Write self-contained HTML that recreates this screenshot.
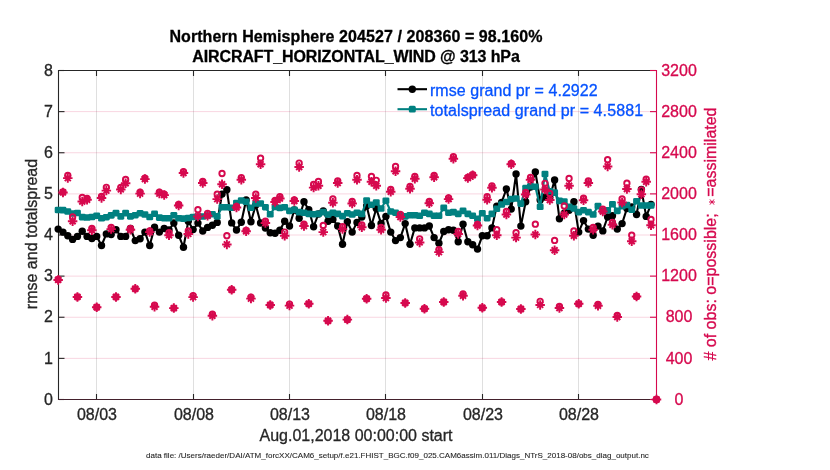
<!DOCTYPE html><html><head><meta charset="utf-8"><title>obs diag</title><style>
html,body{margin:0;padding:0;background:#fff;}
body{width:830px;height:470px;position:relative;overflow:hidden;font-family:"Liberation Sans",sans-serif;font-size:16px;color:#262626;}
.t{will-change:transform;-webkit-text-stroke:0.3px currentColor;position:absolute;white-space:nowrap;line-height:16px;height:16px;}
.yl{text-align:right;width:40px;left:12.6px;}
.yr{left:648.8px;width:60px;text-align:center;color:#D6094E;}
.xl{width:60px;text-align:center;top:407.1px;}
.ttl{font-weight:bold;width:600px;left:57.5px;text-align:center;}
.lg{color:#0552FF;left:429.8px;}
.rot{will-change:transform;transform-origin:0 0;transform:rotate(-90deg);text-align:center;}
</style></head><body>
<svg width="830" height="470" viewBox="0 0 830 470" style="position:absolute;left:0;top:0">
<rect x="0" y="0" width="830" height="470" fill="#fff"/>
<g stroke="rgba(38,38,38,0.15)" stroke-width="1"><line x1="96.5" y1="70.5" x2="96.5" y2="399.5"/><line x1="193.5" y1="70.5" x2="193.5" y2="399.5"/><line x1="289.5" y1="70.5" x2="289.5" y2="399.5"/><line x1="385.5" y1="70.5" x2="385.5" y2="399.5"/><line x1="482.5" y1="70.5" x2="482.5" y2="399.5"/><line x1="578.5" y1="70.5" x2="578.5" y2="399.5"/></g>
<g stroke="rgba(214,9,78,0.17)" stroke-width="1"><line x1="58.5" y1="358.38" x2="656.5" y2="358.38"/><line x1="58.5" y1="317.25" x2="656.5" y2="317.25"/><line x1="58.5" y1="276.12" x2="656.5" y2="276.12"/><line x1="58.5" y1="235" x2="656.5" y2="235"/><line x1="58.5" y1="193.88" x2="656.5" y2="193.88"/><line x1="58.5" y1="152.75" x2="656.5" y2="152.75"/><line x1="58.5" y1="111.62" x2="656.5" y2="111.62"/></g>
<g stroke="#262626" stroke-width="1.1" fill="none"><line x1="58.5" y1="70.0" x2="58.5" y2="400.0"/><line x1="58.5" y1="70.5" x2="656.5" y2="70.5"/><line x1="58.5" y1="399.5" x2="64.5" y2="399.5"/><line x1="58.5" y1="358.38" x2="64.5" y2="358.38"/><line x1="58.5" y1="317.25" x2="64.5" y2="317.25"/><line x1="58.5" y1="276.12" x2="64.5" y2="276.12"/><line x1="58.5" y1="235" x2="64.5" y2="235"/><line x1="58.5" y1="193.88" x2="64.5" y2="193.88"/><line x1="58.5" y1="152.75" x2="64.5" y2="152.75"/><line x1="58.5" y1="111.62" x2="64.5" y2="111.62"/><line x1="58.5" y1="70.5" x2="64.5" y2="70.5"/><line x1="96.5" y1="70.5" x2="96.5" y2="76.0"/><line x1="96.5" y1="399.5" x2="96.5" y2="394.0"/><line x1="193.5" y1="70.5" x2="193.5" y2="76.0"/><line x1="193.5" y1="399.5" x2="193.5" y2="394.0"/><line x1="289.5" y1="70.5" x2="289.5" y2="76.0"/><line x1="289.5" y1="399.5" x2="289.5" y2="394.0"/><line x1="385.5" y1="70.5" x2="385.5" y2="76.0"/><line x1="385.5" y1="399.5" x2="385.5" y2="394.0"/><line x1="482.5" y1="70.5" x2="482.5" y2="76.0"/><line x1="482.5" y1="399.5" x2="482.5" y2="394.0"/><line x1="578.5" y1="70.5" x2="578.5" y2="76.0"/><line x1="578.5" y1="399.5" x2="578.5" y2="394.0"/></g>
<line x1="58.0" y1="399.5" x2="656.5" y2="399.5" stroke="#43202c" stroke-width="1.2"/>
<polyline points="58.15,229.1 62.97,232.1 67.79,235.8 72.61,239.4 77.43,236.4 82.25,231.3 87.07,236.4 91.89,238.5 96.71,236.4 101.53,245.5 106.35,233.9 111.17,234.5 115.99,229.7 120.81,236.4 125.63,236.4 130.45,228.5 135.27,240.6 140.09,238.8 144.91,232.1 149.73,245.5 154.55,227.3 159.37,232.1 164.19,228.5 169.01,230 173.83,223 178.65,235.2 183.47,247.3 188.29,221.3 193.11,229.6 197.93,223.1 202.75,231 207.57,227.4 212.39,225.3 217.21,222.4 222.03,194.1 226.85,189.8 231.67,222.9 236.49,230 241.31,222.3 246.13,200 250.95,221.8 255.77,205 260.59,223 265.41,228 270.23,232.7 275.05,233.3 279.87,230.3 284.69,221.2 289.51,226 294.33,210 299.15,218.2 303.97,201.8 308.79,209.7 313.61,226.7 318.43,214 323.25,211 328.07,221.2 332.89,219.4 337.71,226 342.53,244.2 347.35,221.8 352.17,232.1 356.99,222.4 361.81,217 366.63,206 371.45,225.5 376.27,208.5 381.09,223.4 385.91,216.4 390.73,232.1 395.55,240.6 400.37,237.6 405.19,223.6 410.01,244.2 414.83,227.9 419.65,227.9 424.47,227.9 429.29,226 434.11,237.6 438.93,243.3 443.75,231.5 448.57,229.7 453.39,230.3 458.21,241.8 463.03,224.2 467.85,241.8 472.67,244.8 477.49,249.1 482.31,235.8 487.13,235.8 491.95,227.9 496.77,206.1 501.59,202.4 506.41,189 511.23,209.1 516.05,174 520.87,226.1 525.69,201.8 530.51,187 535.33,172 540.15,200 544.97,197 549.79,197.5 554.61,180 559.43,218.8 564.25,213.3 569.07,210.3 573.89,201.7 578.71,232.1 583.53,220.6 588.35,229.1 593.17,235.2 597.99,226.1 602.81,230.9 607.63,217 612.45,215.8 617.27,229.1 622.09,223.6 626.91,208.5 631.73,207 636.55,214.5 641.37,189.4 646.19,216.4 651.01,204.5" fill="none" stroke="#000" stroke-width="2.1" stroke-linejoin="round"/>
<g fill="#000"><circle cx="58.15" cy="229.1" r="3.7"/><circle cx="62.97" cy="232.1" r="3.7"/><circle cx="67.79" cy="235.8" r="3.7"/><circle cx="72.61" cy="239.4" r="3.7"/><circle cx="77.43" cy="236.4" r="3.7"/><circle cx="82.25" cy="231.3" r="3.7"/><circle cx="87.07" cy="236.4" r="3.7"/><circle cx="91.89" cy="238.5" r="3.7"/><circle cx="96.71" cy="236.4" r="3.7"/><circle cx="101.53" cy="245.5" r="3.7"/><circle cx="106.35" cy="233.9" r="3.7"/><circle cx="111.17" cy="234.5" r="3.7"/><circle cx="115.99" cy="229.7" r="3.7"/><circle cx="120.81" cy="236.4" r="3.7"/><circle cx="125.63" cy="236.4" r="3.7"/><circle cx="130.45" cy="228.5" r="3.7"/><circle cx="135.27" cy="240.6" r="3.7"/><circle cx="140.09" cy="238.8" r="3.7"/><circle cx="144.91" cy="232.1" r="3.7"/><circle cx="149.73" cy="245.5" r="3.7"/><circle cx="154.55" cy="227.3" r="3.7"/><circle cx="159.37" cy="232.1" r="3.7"/><circle cx="164.19" cy="228.5" r="3.7"/><circle cx="169.01" cy="230" r="3.7"/><circle cx="173.83" cy="223" r="3.7"/><circle cx="178.65" cy="235.2" r="3.7"/><circle cx="183.47" cy="247.3" r="3.7"/><circle cx="188.29" cy="221.3" r="3.7"/><circle cx="193.11" cy="229.6" r="3.7"/><circle cx="197.93" cy="223.1" r="3.7"/><circle cx="202.75" cy="231" r="3.7"/><circle cx="207.57" cy="227.4" r="3.7"/><circle cx="212.39" cy="225.3" r="3.7"/><circle cx="217.21" cy="222.4" r="3.7"/><circle cx="222.03" cy="194.1" r="3.7"/><circle cx="226.85" cy="189.8" r="3.7"/><circle cx="231.67" cy="222.9" r="3.7"/><circle cx="236.49" cy="230" r="3.7"/><circle cx="241.31" cy="222.3" r="3.7"/><circle cx="246.13" cy="200" r="3.7"/><circle cx="250.95" cy="221.8" r="3.7"/><circle cx="255.77" cy="205" r="3.7"/><circle cx="260.59" cy="223" r="3.7"/><circle cx="265.41" cy="228" r="3.7"/><circle cx="270.23" cy="232.7" r="3.7"/><circle cx="275.05" cy="233.3" r="3.7"/><circle cx="279.87" cy="230.3" r="3.7"/><circle cx="284.69" cy="221.2" r="3.7"/><circle cx="289.51" cy="226" r="3.7"/><circle cx="294.33" cy="210" r="3.7"/><circle cx="299.15" cy="218.2" r="3.7"/><circle cx="303.97" cy="201.8" r="3.7"/><circle cx="308.79" cy="209.7" r="3.7"/><circle cx="313.61" cy="226.7" r="3.7"/><circle cx="318.43" cy="214" r="3.7"/><circle cx="323.25" cy="211" r="3.7"/><circle cx="328.07" cy="221.2" r="3.7"/><circle cx="332.89" cy="219.4" r="3.7"/><circle cx="337.71" cy="226" r="3.7"/><circle cx="342.53" cy="244.2" r="3.7"/><circle cx="347.35" cy="221.8" r="3.7"/><circle cx="352.17" cy="232.1" r="3.7"/><circle cx="356.99" cy="222.4" r="3.7"/><circle cx="361.81" cy="217" r="3.7"/><circle cx="366.63" cy="206" r="3.7"/><circle cx="371.45" cy="225.5" r="3.7"/><circle cx="376.27" cy="208.5" r="3.7"/><circle cx="381.09" cy="223.4" r="3.7"/><circle cx="385.91" cy="216.4" r="3.7"/><circle cx="390.73" cy="232.1" r="3.7"/><circle cx="395.55" cy="240.6" r="3.7"/><circle cx="400.37" cy="237.6" r="3.7"/><circle cx="405.19" cy="223.6" r="3.7"/><circle cx="410.01" cy="244.2" r="3.7"/><circle cx="414.83" cy="227.9" r="3.7"/><circle cx="419.65" cy="227.9" r="3.7"/><circle cx="424.47" cy="227.9" r="3.7"/><circle cx="429.29" cy="226" r="3.7"/><circle cx="434.11" cy="237.6" r="3.7"/><circle cx="438.93" cy="243.3" r="3.7"/><circle cx="443.75" cy="231.5" r="3.7"/><circle cx="448.57" cy="229.7" r="3.7"/><circle cx="453.39" cy="230.3" r="3.7"/><circle cx="458.21" cy="241.8" r="3.7"/><circle cx="463.03" cy="224.2" r="3.7"/><circle cx="467.85" cy="241.8" r="3.7"/><circle cx="472.67" cy="244.8" r="3.7"/><circle cx="477.49" cy="249.1" r="3.7"/><circle cx="482.31" cy="235.8" r="3.7"/><circle cx="487.13" cy="235.8" r="3.7"/><circle cx="491.95" cy="227.9" r="3.7"/><circle cx="496.77" cy="206.1" r="3.7"/><circle cx="501.59" cy="202.4" r="3.7"/><circle cx="506.41" cy="189" r="3.7"/><circle cx="511.23" cy="209.1" r="3.7"/><circle cx="516.05" cy="174" r="3.7"/><circle cx="520.87" cy="226.1" r="3.7"/><circle cx="525.69" cy="201.8" r="3.7"/><circle cx="530.51" cy="187" r="3.7"/><circle cx="535.33" cy="172" r="3.7"/><circle cx="540.15" cy="200" r="3.7"/><circle cx="544.97" cy="197" r="3.7"/><circle cx="549.79" cy="197.5" r="3.7"/><circle cx="554.61" cy="180" r="3.7"/><circle cx="559.43" cy="218.8" r="3.7"/><circle cx="564.25" cy="213.3" r="3.7"/><circle cx="569.07" cy="210.3" r="3.7"/><circle cx="573.89" cy="201.7" r="3.7"/><circle cx="578.71" cy="232.1" r="3.7"/><circle cx="583.53" cy="220.6" r="3.7"/><circle cx="588.35" cy="229.1" r="3.7"/><circle cx="593.17" cy="235.2" r="3.7"/><circle cx="597.99" cy="226.1" r="3.7"/><circle cx="602.81" cy="230.9" r="3.7"/><circle cx="607.63" cy="217" r="3.7"/><circle cx="612.45" cy="215.8" r="3.7"/><circle cx="617.27" cy="229.1" r="3.7"/><circle cx="622.09" cy="223.6" r="3.7"/><circle cx="626.91" cy="208.5" r="3.7"/><circle cx="631.73" cy="207" r="3.7"/><circle cx="636.55" cy="214.5" r="3.7"/><circle cx="641.37" cy="189.4" r="3.7"/><circle cx="646.19" cy="216.4" r="3.7"/><circle cx="651.01" cy="204.5" r="3.7"/></g>
<polyline points="58.15,210 62.97,210.1 67.79,211.5 72.61,213.5 77.43,213 82.25,217.1 87.07,217.5 91.89,217 96.71,215.7 101.53,218.3 106.35,217.2 111.17,215.4 115.99,213.1 120.81,216.4 125.63,213.1 130.45,216.4 135.27,215.2 140.09,213.3 144.91,214.5 149.73,217 154.55,213.8 159.37,217.6 164.19,218.2 169.01,218.2 173.83,215.2 178.65,218.2 183.47,218.6 188.29,218 193.11,217 197.93,216.6 202.75,216.5 207.57,215.5 212.39,214.3 217.21,216.4 222.03,207.2 226.85,207.2 231.67,207.8 236.49,203 241.31,200.5 246.13,201.8 250.95,207.8 255.77,203.5 260.59,203.5 265.41,207.2 270.23,214.3 275.05,207 279.87,207.9 284.69,207.3 289.51,210.9 294.33,209.7 299.15,212.1 303.97,212.7 308.79,213.9 313.61,214.3 318.43,213.9 323.25,212.1 328.07,214.5 332.89,212.7 337.71,213.9 342.53,216.1 347.35,213.3 352.17,214.5 356.99,212.7 361.81,213.9 366.63,200.5 371.45,204.8 376.27,202.5 381.09,208.5 385.91,200.7 390.73,211.5 395.55,212.7 400.37,215.2 405.19,216.4 410.01,215.2 414.83,215.2 419.65,215.8 424.47,212.7 429.29,213.9 434.11,215.8 438.93,215.8 443.75,207.9 448.57,212.7 453.39,212.1 458.21,213.9 463.03,210.9 467.85,213.9 472.67,215.8 477.49,218.8 482.31,213.3 487.13,218.2 491.95,213.9 496.77,208.8 501.59,204.5 506.41,202 511.23,199 516.05,198.5 520.87,203.6 525.69,188.1 530.51,186.2 535.33,186.7 540.15,206.8 544.97,174 549.79,191.3 554.61,192.6 559.43,200.9 564.25,201.5 569.07,206.7 573.89,208.5 578.71,212.1 583.53,210.3 588.35,212.1 593.17,214.5 597.99,206.1 602.81,210.9 607.63,210.3 612.45,204.2 617.27,210.9 622.09,206.3 626.91,205 631.73,209.7 636.55,201.2 641.37,205.5 646.19,205.5 651.01,205.5" fill="none" stroke="#008080" stroke-width="2.1" stroke-linejoin="round"/>
<g fill="#008080"><rect x="54.7" y="206.7" width="6.9" height="6.6" rx="1.4"/><rect x="59.52" y="206.8" width="6.9" height="6.6" rx="1.4"/><rect x="64.34" y="208.2" width="6.9" height="6.6" rx="1.4"/><rect x="69.16" y="210.2" width="6.9" height="6.6" rx="1.4"/><rect x="73.98" y="209.7" width="6.9" height="6.6" rx="1.4"/><rect x="78.8" y="213.8" width="6.9" height="6.6" rx="1.4"/><rect x="83.62" y="214.2" width="6.9" height="6.6" rx="1.4"/><rect x="88.44" y="213.7" width="6.9" height="6.6" rx="1.4"/><rect x="93.26" y="212.4" width="6.9" height="6.6" rx="1.4"/><rect x="98.08" y="215" width="6.9" height="6.6" rx="1.4"/><rect x="102.9" y="213.9" width="6.9" height="6.6" rx="1.4"/><rect x="107.72" y="212.1" width="6.9" height="6.6" rx="1.4"/><rect x="112.54" y="209.8" width="6.9" height="6.6" rx="1.4"/><rect x="117.36" y="213.1" width="6.9" height="6.6" rx="1.4"/><rect x="122.18" y="209.8" width="6.9" height="6.6" rx="1.4"/><rect x="127" y="213.1" width="6.9" height="6.6" rx="1.4"/><rect x="131.82" y="211.9" width="6.9" height="6.6" rx="1.4"/><rect x="136.64" y="210" width="6.9" height="6.6" rx="1.4"/><rect x="141.46" y="211.2" width="6.9" height="6.6" rx="1.4"/><rect x="146.28" y="213.7" width="6.9" height="6.6" rx="1.4"/><rect x="151.1" y="210.5" width="6.9" height="6.6" rx="1.4"/><rect x="155.92" y="214.3" width="6.9" height="6.6" rx="1.4"/><rect x="160.74" y="214.9" width="6.9" height="6.6" rx="1.4"/><rect x="165.56" y="214.9" width="6.9" height="6.6" rx="1.4"/><rect x="170.38" y="211.9" width="6.9" height="6.6" rx="1.4"/><rect x="175.2" y="214.9" width="6.9" height="6.6" rx="1.4"/><rect x="180.02" y="215.3" width="6.9" height="6.6" rx="1.4"/><rect x="184.84" y="214.7" width="6.9" height="6.6" rx="1.4"/><rect x="189.66" y="213.7" width="6.9" height="6.6" rx="1.4"/><rect x="194.48" y="213.3" width="6.9" height="6.6" rx="1.4"/><rect x="199.3" y="213.2" width="6.9" height="6.6" rx="1.4"/><rect x="204.12" y="212.2" width="6.9" height="6.6" rx="1.4"/><rect x="208.94" y="211" width="6.9" height="6.6" rx="1.4"/><rect x="213.76" y="213.1" width="6.9" height="6.6" rx="1.4"/><rect x="218.58" y="203.9" width="6.9" height="6.6" rx="1.4"/><rect x="223.4" y="203.9" width="6.9" height="6.6" rx="1.4"/><rect x="228.22" y="204.5" width="6.9" height="6.6" rx="1.4"/><rect x="233.04" y="199.7" width="6.9" height="6.6" rx="1.4"/><rect x="237.86" y="197.2" width="6.9" height="6.6" rx="1.4"/><rect x="242.68" y="198.5" width="6.9" height="6.6" rx="1.4"/><rect x="247.5" y="204.5" width="6.9" height="6.6" rx="1.4"/><rect x="252.32" y="200.2" width="6.9" height="6.6" rx="1.4"/><rect x="257.14" y="200.2" width="6.9" height="6.6" rx="1.4"/><rect x="261.96" y="203.9" width="6.9" height="6.6" rx="1.4"/><rect x="266.78" y="211" width="6.9" height="6.6" rx="1.4"/><rect x="271.6" y="203.7" width="6.9" height="6.6" rx="1.4"/><rect x="276.42" y="204.6" width="6.9" height="6.6" rx="1.4"/><rect x="281.24" y="204" width="6.9" height="6.6" rx="1.4"/><rect x="286.06" y="207.6" width="6.9" height="6.6" rx="1.4"/><rect x="290.88" y="206.4" width="6.9" height="6.6" rx="1.4"/><rect x="295.7" y="208.8" width="6.9" height="6.6" rx="1.4"/><rect x="300.52" y="209.4" width="6.9" height="6.6" rx="1.4"/><rect x="305.34" y="210.6" width="6.9" height="6.6" rx="1.4"/><rect x="310.16" y="211" width="6.9" height="6.6" rx="1.4"/><rect x="314.98" y="210.6" width="6.9" height="6.6" rx="1.4"/><rect x="319.8" y="208.8" width="6.9" height="6.6" rx="1.4"/><rect x="324.62" y="211.2" width="6.9" height="6.6" rx="1.4"/><rect x="329.44" y="209.4" width="6.9" height="6.6" rx="1.4"/><rect x="334.26" y="210.6" width="6.9" height="6.6" rx="1.4"/><rect x="339.08" y="212.8" width="6.9" height="6.6" rx="1.4"/><rect x="343.9" y="210" width="6.9" height="6.6" rx="1.4"/><rect x="348.72" y="211.2" width="6.9" height="6.6" rx="1.4"/><rect x="353.54" y="209.4" width="6.9" height="6.6" rx="1.4"/><rect x="358.36" y="210.6" width="6.9" height="6.6" rx="1.4"/><rect x="363.18" y="197.2" width="6.9" height="6.6" rx="1.4"/><rect x="368" y="201.5" width="6.9" height="6.6" rx="1.4"/><rect x="372.82" y="199.2" width="6.9" height="6.6" rx="1.4"/><rect x="377.64" y="205.2" width="6.9" height="6.6" rx="1.4"/><rect x="382.46" y="197.4" width="6.9" height="6.6" rx="1.4"/><rect x="387.28" y="208.2" width="6.9" height="6.6" rx="1.4"/><rect x="392.1" y="209.4" width="6.9" height="6.6" rx="1.4"/><rect x="396.92" y="211.9" width="6.9" height="6.6" rx="1.4"/><rect x="401.74" y="213.1" width="6.9" height="6.6" rx="1.4"/><rect x="406.56" y="211.9" width="6.9" height="6.6" rx="1.4"/><rect x="411.38" y="211.9" width="6.9" height="6.6" rx="1.4"/><rect x="416.2" y="212.5" width="6.9" height="6.6" rx="1.4"/><rect x="421.02" y="209.4" width="6.9" height="6.6" rx="1.4"/><rect x="425.84" y="210.6" width="6.9" height="6.6" rx="1.4"/><rect x="430.66" y="212.5" width="6.9" height="6.6" rx="1.4"/><rect x="435.48" y="212.5" width="6.9" height="6.6" rx="1.4"/><rect x="440.3" y="204.6" width="6.9" height="6.6" rx="1.4"/><rect x="445.12" y="209.4" width="6.9" height="6.6" rx="1.4"/><rect x="449.94" y="208.8" width="6.9" height="6.6" rx="1.4"/><rect x="454.76" y="210.6" width="6.9" height="6.6" rx="1.4"/><rect x="459.58" y="207.6" width="6.9" height="6.6" rx="1.4"/><rect x="464.4" y="210.6" width="6.9" height="6.6" rx="1.4"/><rect x="469.22" y="212.5" width="6.9" height="6.6" rx="1.4"/><rect x="474.04" y="215.5" width="6.9" height="6.6" rx="1.4"/><rect x="478.86" y="210" width="6.9" height="6.6" rx="1.4"/><rect x="483.68" y="214.9" width="6.9" height="6.6" rx="1.4"/><rect x="488.5" y="210.6" width="6.9" height="6.6" rx="1.4"/><rect x="493.32" y="205.5" width="6.9" height="6.6" rx="1.4"/><rect x="498.14" y="201.2" width="6.9" height="6.6" rx="1.4"/><rect x="502.96" y="198.7" width="6.9" height="6.6" rx="1.4"/><rect x="507.78" y="195.7" width="6.9" height="6.6" rx="1.4"/><rect x="512.6" y="195.2" width="6.9" height="6.6" rx="1.4"/><rect x="517.42" y="200.3" width="6.9" height="6.6" rx="1.4"/><rect x="522.24" y="184.8" width="6.9" height="6.6" rx="1.4"/><rect x="527.06" y="182.9" width="6.9" height="6.6" rx="1.4"/><rect x="531.88" y="183.4" width="6.9" height="6.6" rx="1.4"/><rect x="536.7" y="203.5" width="6.9" height="6.6" rx="1.4"/><rect x="541.52" y="170.7" width="6.9" height="6.6" rx="1.4"/><rect x="546.34" y="188" width="6.9" height="6.6" rx="1.4"/><rect x="551.16" y="189.3" width="6.9" height="6.6" rx="1.4"/><rect x="555.98" y="197.6" width="6.9" height="6.6" rx="1.4"/><rect x="560.8" y="198.2" width="6.9" height="6.6" rx="1.4"/><rect x="565.62" y="203.4" width="6.9" height="6.6" rx="1.4"/><rect x="570.44" y="205.2" width="6.9" height="6.6" rx="1.4"/><rect x="575.26" y="208.8" width="6.9" height="6.6" rx="1.4"/><rect x="580.08" y="207" width="6.9" height="6.6" rx="1.4"/><rect x="584.9" y="208.8" width="6.9" height="6.6" rx="1.4"/><rect x="589.72" y="211.2" width="6.9" height="6.6" rx="1.4"/><rect x="594.54" y="202.8" width="6.9" height="6.6" rx="1.4"/><rect x="599.36" y="207.6" width="6.9" height="6.6" rx="1.4"/><rect x="604.18" y="207" width="6.9" height="6.6" rx="1.4"/><rect x="609" y="200.9" width="6.9" height="6.6" rx="1.4"/><rect x="613.82" y="207.6" width="6.9" height="6.6" rx="1.4"/><rect x="618.64" y="203" width="6.9" height="6.6" rx="1.4"/><rect x="623.46" y="201.7" width="6.9" height="6.6" rx="1.4"/><rect x="628.28" y="206.4" width="6.9" height="6.6" rx="1.4"/><rect x="633.1" y="197.9" width="6.9" height="6.6" rx="1.4"/><rect x="637.92" y="202.2" width="6.9" height="6.6" rx="1.4"/><rect x="642.74" y="202.2" width="6.9" height="6.6" rx="1.4"/><rect x="647.56" y="202.2" width="6.9" height="6.6" rx="1.4"/></g>
<g stroke="#D6094E" stroke-width="1.1" fill="none"><line x1="656.5" y1="70.0" x2="656.5" y2="400.0"/><line x1="656.5" y1="399.5" x2="650.0" y2="399.5"/><line x1="656.5" y1="358.38" x2="650.0" y2="358.38"/><line x1="656.5" y1="317.25" x2="650.0" y2="317.25"/><line x1="656.5" y1="276.12" x2="650.0" y2="276.12"/><line x1="656.5" y1="235" x2="650.0" y2="235"/><line x1="656.5" y1="193.88" x2="650.0" y2="193.88"/><line x1="656.5" y1="152.75" x2="650.0" y2="152.75"/><line x1="656.5" y1="111.62" x2="650.0" y2="111.62"/><line x1="656.5" y1="70.5" x2="650.0" y2="70.5"/></g>
<g stroke="#D6094E" stroke-width="1.9" fill="none"><circle cx="58.15" cy="279.5" r="2.7"/><circle cx="62.97" cy="192" r="2.7"/><circle cx="67.79" cy="175.5" r="2.7"/><circle cx="72.61" cy="217" r="2.7"/><circle cx="77.43" cy="296.9" r="2.7"/><circle cx="82.25" cy="197.5" r="2.7"/><circle cx="87.07" cy="198.5" r="2.7"/><circle cx="91.89" cy="228.5" r="2.7"/><circle cx="96.71" cy="307.2" r="2.7"/><circle cx="101.53" cy="196.5" r="2.7"/><circle cx="106.35" cy="187.3" r="2.7"/><circle cx="111.17" cy="227.3" r="2.7"/><circle cx="115.99" cy="296.9" r="2.7"/><circle cx="120.81" cy="187.3" r="2.7"/><circle cx="125.63" cy="179.5" r="2.7"/><circle cx="130.45" cy="228.3" r="2.7"/><circle cx="135.27" cy="288.8" r="2.7"/><circle cx="140.09" cy="192.2" r="2.7"/><circle cx="144.91" cy="178.2" r="2.7"/><circle cx="149.73" cy="231" r="2.7"/><circle cx="154.55" cy="305.2" r="2.7"/><circle cx="159.37" cy="192.2" r="2.7"/><circle cx="164.19" cy="194.2" r="2.7"/><circle cx="169.01" cy="232.7" r="2.7"/><circle cx="173.83" cy="308.1" r="2.7"/><circle cx="178.65" cy="204.5" r="2.7"/><circle cx="183.47" cy="171.6" r="2.7"/><circle cx="188.29" cy="231" r="2.7"/><circle cx="193.11" cy="295.6" r="2.7"/><circle cx="197.93" cy="209.7" r="2.7"/><circle cx="202.75" cy="181.5" r="2.7"/><circle cx="207.57" cy="213.3" r="2.7"/><circle cx="212.39" cy="314.2" r="2.7"/><circle cx="217.21" cy="194.2" r="2.7"/><circle cx="222.03" cy="173.5" r="2.7"/><circle cx="226.85" cy="235.7" r="2.7"/><circle cx="231.67" cy="289.7" r="2.7"/><circle cx="236.49" cy="206.5" r="2.7"/><circle cx="241.31" cy="177.6" r="2.7"/><circle cx="246.13" cy="230.3" r="2.7"/><circle cx="250.95" cy="297.1" r="2.7"/><circle cx="255.77" cy="194.2" r="2.7"/><circle cx="260.59" cy="158.2" r="2.7"/><circle cx="265.41" cy="221.2" r="2.7"/><circle cx="270.23" cy="305" r="2.7"/><circle cx="275.05" cy="200.5" r="2.7"/><circle cx="279.87" cy="196.7" r="2.7"/><circle cx="284.69" cy="232.1" r="2.7"/><circle cx="289.51" cy="304.1" r="2.7"/><circle cx="294.33" cy="200" r="2.7"/><circle cx="299.15" cy="163.1" r="2.7"/><circle cx="303.97" cy="224.2" r="2.7"/><circle cx="308.79" cy="303.8" r="2.7"/><circle cx="313.61" cy="184.5" r="2.7"/><circle cx="318.43" cy="181.5" r="2.7"/><circle cx="323.25" cy="225.5" r="2.7"/><circle cx="328.07" cy="320.8" r="2.7"/><circle cx="332.89" cy="199" r="2.7"/><circle cx="337.71" cy="181" r="2.7"/><circle cx="342.53" cy="226.7" r="2.7"/><circle cx="347.35" cy="319.6" r="2.7"/><circle cx="352.17" cy="201.5" r="2.7"/><circle cx="356.99" cy="175.5" r="2.7"/><circle cx="361.81" cy="224.8" r="2.7"/><circle cx="366.63" cy="298.7" r="2.7"/><circle cx="371.45" cy="176.4" r="2.7"/><circle cx="376.27" cy="180.3" r="2.7"/><circle cx="381.09" cy="227.3" r="2.7"/><circle cx="385.91" cy="294.9" r="2.7"/><circle cx="390.73" cy="189.4" r="2.7"/><circle cx="395.55" cy="166.4" r="2.7"/><circle cx="400.37" cy="214.3" r="2.7"/><circle cx="405.19" cy="302.9" r="2.7"/><circle cx="410.01" cy="186.4" r="2.7"/><circle cx="414.83" cy="176.4" r="2.7"/><circle cx="419.65" cy="238.8" r="2.7"/><circle cx="424.47" cy="308.7" r="2.7"/><circle cx="429.29" cy="201.5" r="2.7"/><circle cx="434.11" cy="175.5" r="2.7"/><circle cx="438.93" cy="249.7" r="2.7"/><circle cx="443.75" cy="302" r="2.7"/><circle cx="448.57" cy="198" r="2.7"/><circle cx="453.39" cy="156.7" r="2.7"/><circle cx="458.21" cy="231.5" r="2.7"/><circle cx="463.03" cy="293.9" r="2.7"/><circle cx="467.85" cy="177.5" r="2.7"/><circle cx="472.67" cy="174.7" r="2.7"/><circle cx="477.49" cy="224.5" r="2.7"/><circle cx="482.31" cy="307.8" r="2.7"/><circle cx="487.13" cy="196.7" r="2.7"/><circle cx="491.95" cy="185.8" r="2.7"/><circle cx="496.77" cy="229.7" r="2.7"/><circle cx="501.59" cy="302" r="2.7"/><circle cx="506.41" cy="211.5" r="2.7"/><circle cx="511.23" cy="163.5" r="2.7"/><circle cx="516.05" cy="232.7" r="2.7"/><circle cx="520.87" cy="309" r="2.7"/><circle cx="525.69" cy="192.4" r="2.7"/><circle cx="530.51" cy="177.3" r="2.7"/><circle cx="535.33" cy="224.2" r="2.7"/><circle cx="540.15" cy="301.3" r="2.7"/><circle cx="544.97" cy="183.3" r="2.7"/><circle cx="549.79" cy="193.4" r="2.7"/><circle cx="554.61" cy="240.4" r="2.7"/><circle cx="559.43" cy="306.5" r="2.7"/><circle cx="564.25" cy="206" r="2.7"/><circle cx="569.07" cy="178.5" r="2.7"/><circle cx="573.89" cy="230.9" r="2.7"/><circle cx="578.71" cy="303.8" r="2.7"/><circle cx="583.53" cy="198.2" r="2.7"/><circle cx="588.35" cy="181" r="2.7"/><circle cx="593.17" cy="227.3" r="2.7"/><circle cx="597.99" cy="304.3" r="2.7"/><circle cx="602.81" cy="209.1" r="2.7"/><circle cx="607.63" cy="159.7" r="2.7"/><circle cx="612.45" cy="222.4" r="2.7"/><circle cx="617.27" cy="315.5" r="2.7"/><circle cx="622.09" cy="199" r="2.7"/><circle cx="626.91" cy="183.2" r="2.7"/><circle cx="631.73" cy="235.2" r="2.7"/><circle cx="636.55" cy="296.4" r="2.7"/><circle cx="641.37" cy="190" r="2.7"/><circle cx="646.19" cy="179.1" r="2.7"/><circle cx="651.01" cy="219.4" r="2.7"/><circle cx="656.5" cy="399.5" r="2.7"/></g>
<g stroke="#D6094E" stroke-width="1.95" fill="none"><path d="M53.4 279.9H62.9M58.15 275.15V284.65M55.15 276.9L61.15 282.9M55.15 282.9L61.15 276.9"/><path d="M58.22 192.4H67.72M62.97 187.65V197.15M59.97 189.4L65.97 195.4M59.97 195.4L65.97 189.4"/><path d="M63.04 178.1H72.54M67.79 173.35V182.85M64.79 175.1L70.79 181.1M64.79 181.1L70.79 175.1"/><path d="M67.86 221.2H77.36M72.61 216.45V225.95M69.61 218.2L75.61 224.2M69.61 224.2L75.61 218.2"/><path d="M72.68 296.9H82.18M77.43 292.15V301.65M74.43 293.9L80.43 299.9M74.43 299.9L80.43 293.9"/><path d="M77.5 201.5H87M82.25 196.75V206.25M79.25 198.5L85.25 204.5M79.25 204.5L85.25 198.5"/><path d="M82.32 199.7H91.82M87.07 194.95V204.45M84.07 196.7L90.07 202.7M84.07 202.7L90.07 196.7"/><path d="M87.14 230.3H96.64M91.89 225.55V235.05M88.89 227.3L94.89 233.3M88.89 233.3L94.89 227.3"/><path d="M91.96 307.2H101.46M96.71 302.45V311.95M93.71 304.2L99.71 310.2M93.71 310.2L99.71 304.2"/><path d="M96.78 197.9H106.28M101.53 193.15V202.65M98.53 194.9L104.53 200.9M98.53 200.9L104.53 194.9"/><path d="M101.6 190.6H111.1M106.35 185.85V195.35M103.35 187.6L109.35 193.6M103.35 193.6L109.35 187.6"/><path d="M106.42 229.1H115.92M111.17 224.35V233.85M108.17 226.1L114.17 232.1M108.17 232.1L114.17 226.1"/><path d="M111.24 296.9H120.74M115.99 292.15V301.65M112.99 293.9L118.99 299.9M112.99 299.9L118.99 293.9"/><path d="M116.06 189.4H125.56M120.81 184.65V194.15M117.81 186.4L123.81 192.4M117.81 192.4L123.81 186.4"/><path d="M120.88 183.3H130.38M125.63 178.55V188.05M122.63 180.3L128.63 186.3M122.63 186.3L128.63 180.3"/><path d="M125.7 229.7H135.2M130.45 224.95V234.45M127.45 226.7L133.45 232.7M127.45 232.7L133.45 226.7"/><path d="M130.52 288.8H140.02M135.27 284.05V293.55M132.27 285.8L138.27 291.8M132.27 291.8L138.27 285.8"/><path d="M135.34 193.6H144.84M140.09 188.85V198.35M137.09 190.6L143.09 196.6M137.09 196.6L143.09 190.6"/><path d="M140.16 179.1H149.66M144.91 174.35V183.85M141.91 176.1L147.91 182.1M141.91 182.1L147.91 176.1"/><path d="M144.98 232.1H154.48M149.73 227.35V236.85M146.73 229.1L152.73 235.1M146.73 235.1L152.73 229.1"/><path d="M149.8 306.7H159.3M154.55 301.95V311.45M151.55 303.7L157.55 309.7M151.55 309.7L157.55 303.7"/><path d="M154.62 193.6H164.12M159.37 188.85V198.35M156.37 190.6L162.37 196.6M156.37 196.6L162.37 190.6"/><path d="M159.44 195.1H168.94M164.19 190.35V199.85M161.19 192.1L167.19 198.1M161.19 198.1L167.19 192.1"/><path d="M164.26 235.2H173.76M169.01 230.45V239.95M166.01 232.2L172.01 238.2M166.01 238.2L172.01 232.2"/><path d="M169.08 308.1H178.58M173.83 303.35V312.85M170.83 305.1L176.83 311.1M170.83 311.1L176.83 305.1"/><path d="M173.9 205.5H183.4M178.65 200.75V210.25M175.65 202.5L181.65 208.5M175.65 208.5L181.65 202.5"/><path d="M178.72 173H188.22M183.47 168.25V177.75M180.47 170L186.47 176M180.47 176L186.47 170"/><path d="M183.54 233.9H193.04M188.29 229.15V238.65M185.29 230.9L191.29 236.9M185.29 236.9L191.29 230.9"/><path d="M188.36 297.1H197.86M193.11 292.35V301.85M190.11 294.1L196.11 300.1M190.11 300.1L196.11 294.1"/><path d="M193.18 216.4H202.68M197.93 211.65V221.15M194.93 213.4L200.93 219.4M194.93 219.4L200.93 213.4"/><path d="M198 183H207.5M202.75 178.25V187.75M199.75 180L205.75 186M199.75 186L205.75 180"/><path d="M202.82 215.8H212.32M207.57 211.05V220.55M204.57 212.8L210.57 218.8M204.57 218.8L210.57 212.8"/><path d="M207.64 315.7H217.14M212.39 310.95V320.45M209.39 312.7L215.39 318.7M209.39 318.7L215.39 312.7"/><path d="M212.46 199.1H221.96M217.21 194.35V203.85M214.21 196.1L220.21 202.1M214.21 202.1L220.21 196.1"/><path d="M217.28 184.3H226.78M222.03 179.55V189.05M219.03 181.3L225.03 187.3M219.03 187.3L225.03 181.3"/><path d="M222.1 244.4H231.6M226.85 239.65V249.15M223.85 241.4L229.85 247.4M223.85 247.4L229.85 241.4"/><path d="M226.92 289.7H236.42M231.67 284.95V294.45M228.67 286.7L234.67 292.7M228.67 292.7L234.67 286.7"/><path d="M231.74 207.5H241.24M236.49 202.75V212.25M233.49 204.5L239.49 210.5M233.49 210.5L239.49 204.5"/><path d="M236.56 179.7H246.06M241.31 174.95V184.45M238.31 176.7L244.31 182.7M238.31 182.7L244.31 176.7"/><path d="M241.38 231.3H250.88M246.13 226.55V236.05M243.13 228.3L249.13 234.3M243.13 234.3L249.13 228.3"/><path d="M246.2 298.6H255.7M250.95 293.85V303.35M247.95 295.6L253.95 301.6M247.95 301.6L253.95 295.6"/><path d="M251.02 197.9H260.52M255.77 193.15V202.65M252.77 194.9L258.77 200.9M252.77 200.9L258.77 194.9"/><path d="M255.84 164.3H265.34M260.59 159.55V169.05M257.59 161.3L263.59 167.3M257.59 167.3L263.59 161.3"/><path d="M260.66 223H270.16M265.41 218.25V227.75M262.41 220L268.41 226M262.41 226L268.41 220"/><path d="M265.48 305H274.98M270.23 300.25V309.75M267.23 302L273.23 308M267.23 308L273.23 302"/><path d="M270.3 202H279.8M275.05 197.25V206.75M272.05 199L278.05 205M272.05 205L278.05 199"/><path d="M275.12 198.5H284.62M279.87 193.75V203.25M276.87 195.5L282.87 201.5M276.87 201.5L282.87 195.5"/><path d="M279.94 235.8H289.44M284.69 231.05V240.55M281.69 232.8L287.69 238.8M281.69 238.8L287.69 232.8"/><path d="M284.76 305.6H294.26M289.51 300.85V310.35M286.51 302.6L292.51 308.6M286.51 308.6L292.51 302.6"/><path d="M289.58 201H299.08M294.33 196.25V205.75M291.33 198L297.33 204M291.33 204L297.33 198"/><path d="M294.4 167H303.9M299.15 162.25V171.75M296.15 164L302.15 170M296.15 170L302.15 164"/><path d="M299.22 226H308.72M303.97 221.25V230.75M300.97 223L306.97 229M300.97 229L306.97 223"/><path d="M304.04 303.8H313.54M308.79 299.05V308.55M305.79 300.8L311.79 306.8M305.79 306.8L311.79 300.8"/><path d="M308.86 187.6H318.36M313.61 182.85V192.35M310.61 184.6L316.61 190.6M310.61 190.6L316.61 184.6"/><path d="M313.68 185.8H323.18M318.43 181.05V190.55M315.43 182.8L321.43 188.8M315.43 188.8L321.43 182.8"/><path d="M318.5 232.1H328M323.25 227.35V236.85M320.25 229.1L326.25 235.1M320.25 235.1L326.25 229.1"/><path d="M323.32 320.8H332.82M328.07 316.05V325.55M325.07 317.8L331.07 323.8M325.07 323.8L331.07 317.8"/><path d="M328.14 202.7H337.64M332.89 197.95V207.45M329.89 199.7L335.89 205.7M329.89 205.7L335.89 199.7"/><path d="M332.96 183H342.46M337.71 178.25V187.75M334.71 180L340.71 186M334.71 186L340.71 180"/><path d="M337.78 229.1H347.28M342.53 224.35V233.85M339.53 226.1L345.53 232.1M339.53 232.1L345.53 226.1"/><path d="M342.6 319.6H352.1M347.35 314.85V324.35M344.35 316.6L350.35 322.6M344.35 322.6L350.35 316.6"/><path d="M347.42 203.5H356.92M352.17 198.75V208.25M349.17 200.5L355.17 206.5M349.17 206.5L355.17 200.5"/><path d="M352.24 179.7H361.74M356.99 174.95V184.45M353.99 176.7L359.99 182.7M353.99 182.7L359.99 176.7"/><path d="M357.06 227.3H366.56M361.81 222.55V232.05M358.81 224.3L364.81 230.3M358.81 230.3L364.81 224.3"/><path d="M361.88 298.7H371.38M366.63 293.95V303.45M363.63 295.7L369.63 301.7M363.63 301.7L369.63 295.7"/><path d="M366.7 181.8H376.2M371.45 177.05V186.55M368.45 178.8L374.45 184.8M368.45 184.8L374.45 178.8"/><path d="M371.52 185.8H381.02M376.27 181.05V190.55M373.27 182.8L379.27 188.8M373.27 188.8L379.27 182.8"/><path d="M376.34 229.7H385.84M381.09 224.95V234.45M378.09 226.7L384.09 232.7M378.09 232.7L384.09 226.7"/><path d="M381.16 298H390.66M385.91 293.25V302.75M382.91 295L388.91 301M382.91 301L388.91 295"/><path d="M385.98 191.8H395.48M390.73 187.05V196.55M387.73 188.8L393.73 194.8M387.73 194.8L393.73 188.8"/><path d="M390.8 171.2H400.3M395.55 166.45V175.95M392.55 168.2L398.55 174.2M392.55 174.2L398.55 168.2"/><path d="M395.62 217H405.12M400.37 212.25V221.75M397.37 214L403.37 220M397.37 220L403.37 214"/><path d="M400.44 302.9H409.94M405.19 298.15V307.65M402.19 299.9L408.19 305.9M402.19 305.9L408.19 299.9"/><path d="M405.26 188.8H414.76M410.01 184.05V193.55M407.01 185.8L413.01 191.8M407.01 191.8L413.01 185.8"/><path d="M410.08 178.8H419.58M414.83 174.05V183.55M411.83 175.8L417.83 181.8M411.83 181.8L417.83 175.8"/><path d="M414.9 242.4H424.4M419.65 237.65V247.15M416.65 239.4L422.65 245.4M416.65 245.4L422.65 239.4"/><path d="M419.72 308.7H429.22M424.47 303.95V313.45M421.47 305.7L427.47 311.7M421.47 311.7L427.47 305.7"/><path d="M424.54 203.3H434.04M429.29 198.55V208.05M426.29 200.3L432.29 206.3M426.29 206.3L432.29 200.3"/><path d="M429.36 177.3H438.86M434.11 172.55V182.05M431.11 174.3L437.11 180.3M431.11 180.3L437.11 174.3"/><path d="M434.18 252.1H443.68M438.93 247.35V256.85M435.93 249.1L441.93 255.1M435.93 255.1L441.93 249.1"/><path d="M439 302H448.5M443.75 297.25V306.75M440.75 299L446.75 305M440.75 305L446.75 299"/><path d="M443.82 199.1H453.32M448.57 194.35V203.85M445.57 196.1L451.57 202.1M445.57 202.1L451.57 196.1"/><path d="M448.64 158.7H458.14M453.39 153.95V163.45M450.39 155.7L456.39 161.7M450.39 161.7L456.39 155.7"/><path d="M453.46 233.9H462.96M458.21 229.15V238.65M455.21 230.9L461.21 236.9M455.21 236.9L461.21 230.9"/><path d="M458.28 295.8H467.78M463.03 291.05V300.55M460.03 292.8L466.03 298.8M460.03 298.8L466.03 292.8"/><path d="M463.1 178.1H472.6M467.85 173.35V182.85M464.85 175.1L470.85 181.1M464.85 181.1L470.85 175.1"/><path d="M467.92 175.2H477.42M472.67 170.45V179.95M469.67 172.2L475.67 178.2M469.67 178.2L475.67 172.2"/><path d="M472.74 225.5H482.24M477.49 220.75V230.25M474.49 222.5L480.49 228.5M474.49 228.5L480.49 222.5"/><path d="M477.56 307.8H487.06M482.31 303.05V312.55M479.31 304.8L485.31 310.8M479.31 310.8L485.31 304.8"/><path d="M482.38 199.7H491.88M487.13 194.95V204.45M484.13 196.7L490.13 202.7M484.13 202.7L490.13 196.7"/><path d="M487.2 187.8H496.7M491.95 183.05V192.55M488.95 184.8L494.95 190.8M488.95 190.8L494.95 184.8"/><path d="M492.02 235.2H501.52M496.77 230.45V239.95M493.77 232.2L499.77 238.2M493.77 238.2L499.77 232.2"/><path d="M496.84 302H506.34M501.59 297.25V306.75M498.59 299L504.59 305M498.59 305L504.59 299"/><path d="M501.66 214.5H511.16M506.41 209.75V219.25M503.41 211.5L509.41 217.5M503.41 217.5L509.41 211.5"/><path d="M506.48 164.3H515.98M511.23 159.55V169.05M508.23 161.3L514.23 167.3M508.23 167.3L514.23 161.3"/><path d="M511.3 237.6H520.8M516.05 232.85V242.35M513.05 234.6L519.05 240.6M513.05 240.6L519.05 234.6"/><path d="M516.12 309H525.62M520.87 304.25V313.75M517.87 306L523.87 312M517.87 312L523.87 306"/><path d="M520.94 194.5H530.44M525.69 189.75V199.25M522.69 191.5L528.69 197.5M522.69 197.5L528.69 191.5"/><path d="M525.76 179.8H535.26M530.51 175.05V184.55M527.51 176.8L533.51 182.8M527.51 182.8L533.51 176.8"/><path d="M530.58 234.5H540.08M535.33 229.75V239.25M532.33 231.5L538.33 237.5M532.33 237.5L538.33 231.5"/><path d="M535.4 304.9H544.9M540.15 300.15V309.65M537.15 301.9L543.15 307.9M537.15 307.9L543.15 301.9"/><path d="M540.22 189.5H549.72M544.97 184.75V194.25M541.97 186.5L547.97 192.5M541.97 192.5L547.97 186.5"/><path d="M545.04 200H554.54M549.79 195.25V204.75M546.79 197L552.79 203M546.79 203L552.79 197"/><path d="M549.86 250.3H559.36M554.61 245.55V255.05M551.61 247.3L557.61 253.3M551.61 253.3L557.61 247.3"/><path d="M554.68 308H564.18M559.43 303.25V312.75M556.43 305L562.43 311M556.43 311L562.43 305"/><path d="M559.5 214.5H569M564.25 209.75V219.25M561.25 211.5L567.25 217.5M561.25 217.5L567.25 211.5"/><path d="M564.32 185.8H573.82M569.07 181.05V190.55M566.07 182.8L572.07 188.8M566.07 188.8L572.07 182.8"/><path d="M569.14 235.8H578.64M573.89 231.05V240.55M570.89 232.8L576.89 238.8M570.89 238.8L576.89 232.8"/><path d="M573.96 303.8H583.46M578.71 299.05V308.55M575.71 300.8L581.71 306.8M575.71 306.8L581.71 300.8"/><path d="M578.78 200.3H588.28M583.53 195.55V205.05M580.53 197.3L586.53 203.3M580.53 203.3L586.53 197.3"/><path d="M583.6 183H593.1M588.35 178.25V187.75M585.35 180L591.35 186M585.35 186L591.35 180"/><path d="M588.42 229.7H597.92M593.17 224.95V234.45M590.17 226.7L596.17 232.7M590.17 232.7L596.17 226.7"/><path d="M593.24 305.8H602.74M597.99 301.05V310.55M594.99 302.8L600.99 308.8M594.99 308.8L600.99 302.8"/><path d="M598.06 211.5H607.56M602.81 206.75V216.25M599.81 208.5L605.81 214.5M599.81 214.5L605.81 208.5"/><path d="M602.88 166.4H612.38M607.63 161.65V171.15M604.63 163.4L610.63 169.4M604.63 169.4L610.63 163.4"/><path d="M607.7 224.8H617.2M612.45 220.05V229.55M609.45 221.8L615.45 227.8M609.45 227.8L615.45 221.8"/><path d="M612.52 317H622.02M617.27 312.25V321.75M614.27 314L620.27 320M614.27 320L620.27 314"/><path d="M617.34 202.5H626.84M622.09 197.75V207.25M619.09 199.5L625.09 205.5M619.09 205.5L625.09 199.5"/><path d="M622.16 189H631.66M626.91 184.25V193.75M623.91 186L629.91 192M623.91 192L629.91 186"/><path d="M626.98 241.2H636.48M631.73 236.45V245.95M628.73 238.2L634.73 244.2M628.73 244.2L634.73 238.2"/><path d="M631.8 296.4H641.3M636.55 291.65V301.15M633.55 293.4L639.55 299.4M633.55 299.4L639.55 293.4"/><path d="M636.62 194.2H646.12M641.37 189.45V198.95M638.37 191.2L644.37 197.2M638.37 197.2L644.37 191.2"/><path d="M641.44 181.8H650.94M646.19 177.05V186.55M643.19 178.8L649.19 184.8M643.19 184.8L649.19 178.8"/><path d="M646.26 225.2H655.76M651.01 220.45V229.95M648.01 222.2L654.01 228.2M648.01 228.2L654.01 222.2"/><path d="M651.75 399.5H661.25M656.5 394.75V404.25M653.5 396.5L659.5 402.5M653.5 402.5L659.5 396.5"/></g>
<line x1="397.5" y1="89.2" x2="427" y2="89.2" stroke="#000" stroke-width="2.1"/><circle cx="412.3" cy="89.2" r="3.7" fill="#000"/>
<line x1="397.5" y1="109.2" x2="427" y2="109.2" stroke="#008080" stroke-width="2.1"/><rect x="408.8" y="105.8" width="7" height="6.8" rx="1.6" fill="#008080"/>
</svg>
<div class="t ttl" style="top:29.4px;letter-spacing:0.08px;color:#000;left:56.3px">Northern Hemisphere 204527 / 208360 = 98.160%</div>
<div class="t ttl" style="top:48.9px;letter-spacing:-0.1px;color:#000;left:56.3px">AIRCRAFT_HORIZONTAL_WIND @ 313 hPa</div>
<div class="t yl" style="top:391.7px">0</div>
<div class="t yl" style="top:350.57px">1</div>
<div class="t yl" style="top:309.45px">2</div>
<div class="t yl" style="top:268.32px">3</div>
<div class="t yl" style="top:227.2px">4</div>
<div class="t yl" style="top:186.07px">5</div>
<div class="t yl" style="top:144.95px">6</div>
<div class="t yl" style="top:103.83px">7</div>
<div class="t yl" style="top:62.7px">8</div>
<div class="t yr" style="top:391.7px">0</div>
<div class="t yr" style="top:350.57px">400</div>
<div class="t yr" style="top:309.45px">800</div>
<div class="t yr" style="top:268.32px">1200</div>
<div class="t yr" style="top:227.2px">1600</div>
<div class="t yr" style="top:186.07px">2000</div>
<div class="t yr" style="top:144.95px">2400</div>
<div class="t yr" style="top:103.83px">2800</div>
<div class="t yr" style="top:62.7px">3200</div>
<div class="t xl" style="left:67.4px">08/03</div>
<div class="t xl" style="left:164.4px">08/08</div>
<div class="t xl" style="left:260.4px">08/13</div>
<div class="t xl" style="left:356.4px">08/18</div>
<div class="t xl" style="left:453.4px">08/23</div>
<div class="t xl" style="left:549.4px">08/28</div>
<div class="t" style="left:56.4px;width:600px;text-align:center;top:428.2px">Aug.01,2018 00:00:00 start</div>
<div class="t" style="left:146.3px;top:450.6px;-webkit-text-stroke:0.1px currentColor;font-size:8px;letter-spacing:0.008px;line-height:10px;height:10px" id="df">data file: /Users/raeder/DAI/ATM_forcXX/CAM6_setup/f.e21.FHIST_BGC.f09_025.CAM6assim.011/Diags_NTrS_2018-08/obs_diag_output.nc</div>
<div class="t lg" style="top:82.9px;letter-spacing:0.04px">rmse grand pr = 4.2922</div>
<div class="t lg" style="top:102.7px;letter-spacing:0.095px">totalspread grand pr = 4.5881</div>
<div class="t rot" id="ylab" style="left:24.1px;top:383.6px;width:300px">rmse and totalspread</div>
<div class="t rot" id="yrlab" style="left:703.1px;top:434.4px;width:400px;color:#D6094E"># of obs: o=possible; <span style="display:inline-block;width:12px;height:10px;position:relative"><svg width="8" height="8" viewBox="-4 -4 8 8" style="position:absolute;left:2.5px;top:1.5px;overflow:visible"><g stroke="#D6094E" stroke-width="1" stroke-linecap="round"><line x1="0" y1="-2.6" x2="0" y2="2.6"/><line x1="-2.3" y1="-1.8" x2="2.3" y2="1.8"/><line x1="-2.3" y1="1.8" x2="2.3" y2="-1.8"/></g></svg></span>=assimilated</div>
</body></html>
